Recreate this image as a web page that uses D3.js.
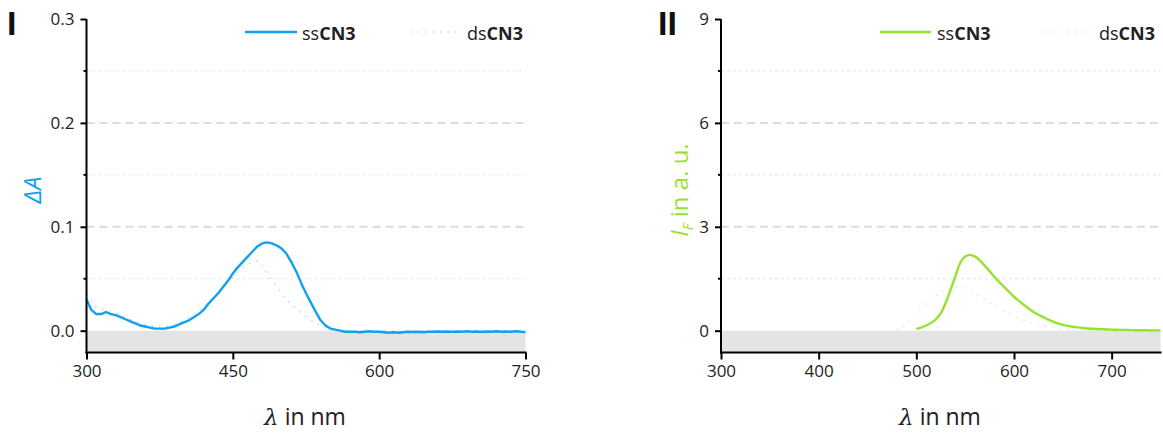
<!DOCTYPE html>
<html>
<head>
<meta charset="utf-8">
<script src="https://cdn.jsdelivr.net/npm/d3@7"></script>
<style>
  html, body { margin: 0; padding: 0; background: #fff; }
  svg { display: block; font-family: "Open Sans", "Noto Sans", sans-serif; }
</style>
</head>
<body>
<svg id="chart" width="1163" height="434"></svg>
<script>
// Panel I: differential absorption (ΔA) vs wavelength
const absWl = [300,305,310,315,320,325,330,335,340,345,350,355,360,365,370,375,380,385,390,395,
  400,405,410,415,420,425,430,435,440,445,450,455,460,465,470,475,480,485,490,495,
  500,505,510,515,520,525,530,535,540,545,550,555,560,565,570,575,580,585,590,595,
  600,605,610,615,620,625,630,635,640,645,650,655,660,665,670,675,680,685,690,695,
  700,705,710,715,720,725,730,735,740,745,750];
const absSs = [0.030,0.020,0.016,0.016,0.018,0.016,0.015,0.013,0.011,0.009,0.007,0.005,0.004,0.003,0.002,0.002,0.002,0.003,0.004,0.006,
  0.008,0.010,0.013,0.016,0.020,0.026,0.031,0.036,0.042,0.048,0.055,0.061,0.066,0.071,0.076,0.081,0.084,0.085,0.084,0.082,
  0.079,0.074,0.066,0.057,0.046,0.036,0.027,0.018,0.010,0.005,0.002,0.001,0.000,-0.001,-0.001,-0.001,-0.0015,-0.001,-0.0005,-0.001,
  -0.001,-0.0015,-0.002,-0.0015,-0.002,-0.0015,-0.001,-0.0012,-0.001,-0.0015,-0.001,-0.001,-0.0008,-0.001,-0.0008,-0.0012,-0.0008,-0.001,-0.0006,-0.001,
  -0.0008,-0.0012,-0.0008,-0.001,-0.0006,-0.001,-0.0008,-0.001,-0.0006,-0.001,-0.0012];
const absDsWl = [300,310,320,330,340,350,360,370,380,390,400,410,420,430,440,450,460,470,475,480,490,500,510,520,530,540,550,560,600,650,700,750];
const absDs = [0.035,0.022,0.020,0.017,0.013,0.009,0.006,0.004,0.004,0.006,0.010,0.016,0.023,0.032,0.042,0.052,0.061,0.066,0.067,0.063,0.049,0.035,0.025,0.017,0.010,0.005,0.0015,0.000,0.000,0.000,0.000,0.000];

// Panel II: fluorescence intensity vs wavelength
const emSsWl = [500,505,510,515,520,525,530,535,540,545,550,555,560,565,570,575,580,585,590,595,
  600,605,610,615,620,625,630,635,640,645,650,655,660,665,670,675,680,685,690,700,710,720,730,740,750];
const emSs = [0.05,0.09,0.15,0.22,0.33,0.5,0.8,1.18,1.58,1.96,2.14,2.19,2.14,2.03,1.88,1.72,1.55,1.4,1.26,1.12,
  0.98,0.86,0.75,0.64,0.54,0.46,0.39,0.32,0.26,0.21,0.17,0.14,0.115,0.095,0.078,0.065,0.055,0.047,0.04,0.03,0.022,0.017,0.013,0.01,0.008];
const emDsWl = [480,485,490,495,500,505,510,515,520,525,530,535,540,545,550,555,560,565,570,575,580,590,600,610,620,630,640,650,660,670,680,700,750];
const emDs = [0.02,0.1,0.22,0.37,0.52,0.67,0.8,0.92,1.01,1.1,1.17,1.22,1.25,1.26,1.24,1.17,1.08,0.98,0.89,0.8,0.72,0.55,0.42,0.3,0.2,0.14,0.1,0.06,0.04,0.02,0.015,0.01,0.005];

const absYTicks = [0.0, 0.1, 0.2, 0.3];
const absYMinor = [0.05, 0.15, 0.25];
const absXTicks = [300, 450, 600, 750];
const emYTicks = [0, 3, 6, 9];
const emYMinor = [1.5, 4.5, 7.5];
const emXTicks = [300, 400, 500, 600, 700];
const seriesNames = ["ss", "ds"];

const svg = d3.select("#chart");

function panel(cfg) {
  const x = d3.scaleLinear().domain([300, 750]).range([cfg.left, cfg.right]);
  const y = d3.scaleLinear().domain(cfg.yDomain).range([352.5, 19]);
  const g = svg.append("g");

  // shaded region below zero
  g.append("rect")
    .attr("x", x(300)).attr("y", y(0))
    .attr("width", x(750) - x(300)).attr("height", y(cfg.yDomain[0]) - y(0))
    .attr("fill", "#e4e4e4");

  // gridlines
  g.selectAll(".gmaj").data(cfg.yTicks.filter(v => v > 0 && v < cfg.yDomain[1])).enter()
    .append("line")
    .attr("x1", x(300)).attr("x2", x(750))
    .attr("y1", d => y(d)).attr("y2", d => y(d))
    .attr("stroke", "#dcdcdc").attr("stroke-width", 2).attr("stroke-dasharray", "8,5");
  g.selectAll(".gmin").data(cfg.yMinor).enter()
    .append("line")
    .attr("x1", x(300)).attr("x2", x(750))
    .attr("y1", d => y(d)).attr("y2", d => y(d))
    .attr("stroke", "#e2e2e2").attr("stroke-width", 1).attr("stroke-dasharray", "3,3");

  const line = d3.line().x(d => x(d[0])).y(d => y(d[1])).curve(cfg.curve);

  // ds series (faint dotted)
  g.append("path")
    .datum(d3.zip(cfg.dsWl, cfg.ds))
    .attr("d", line)
    .attr("fill", "none").attr("stroke", cfg.faint).attr("stroke-width", 1.6)
    .attr("stroke-dasharray", "1.5,6");
  // ss series (solid)
  g.append("path")
    .datum(d3.zip(cfg.ssWl, cfg.ss))
    .attr("d", line)
    .attr("fill", "none").attr("stroke", cfg.color).attr("stroke-width", 2.4)
    .attr("stroke-linejoin", "round");

  // y axis
  const yAxis = d3.axisLeft(y).tickValues(cfg.yTicks).tickFormat(cfg.yFmt).tickSize(6).tickPadding(6);
  const ya = g.append("g").attr("transform", `translate(${x(300)},0)`).call(yAxis);
  ya.select(".domain").remove();
  ya.selectAll("line").attr("stroke", "#000").attr("stroke-width", 2);
  ya.selectAll("text").attr("font-size", 17).attr("fill", "#222").attr("font-family", "'Open Sans', sans-serif");
  g.selectAll(".ymin").data(cfg.yMinor).enter().append("line")
    .attr("x1", x(300) - 3).attr("x2", x(300))
    .attr("y1", d => y(d)).attr("y2", d => y(d))
    .attr("stroke", "#000").attr("stroke-width", 2);
  g.append("line")
    .attr("x1", x(300)).attr("x2", x(300))
    .attr("y1", y(cfg.yDomain[1])).attr("y2", y(cfg.yDomain[0]) + 1)
    .attr("stroke", "#000").attr("stroke-width", 2);

  // x axis
  const xAxis = d3.axisBottom(x).tickValues(cfg.xTicks).tickFormat(d3.format("d")).tickSize(7).tickPadding(5);
  const xa = g.append("g").attr("transform", `translate(0,${y(cfg.yDomain[0])})`).call(xAxis);
  xa.select(".domain").remove();
  xa.selectAll("line").attr("stroke", "#000").attr("stroke-width", 2);
  xa.selectAll("text").attr("font-size", 17).attr("fill", "#222").attr("font-family", "'Open Sans', sans-serif");
  g.append("line")
    .attr("x1", x(300) - 1).attr("x2", x(750) + 1)
    .attr("y1", y(cfg.yDomain[0])).attr("y2", y(cfg.yDomain[0]))
    .attr("stroke", "#000").attr("stroke-width", 2);

  // x axis title
  const xt = g.append("text")
    .attr("x", cfg.xTitleX).attr("y", 425)
    .attr("text-anchor", "middle").attr("font-size", 23).attr("fill", "#222");
  xt.append("tspan").attr("font-style", "italic").attr("font-family", "'DejaVu Serif', serif").text("λ");
  xt.append("tspan").text(" in nm");

  // panel label
  g.append("text")
    .attr("x", cfg.labelX).attr("y", 35)
    .attr("font-size", 34).attr("font-weight", "bold").attr("fill", "#111")
    .attr("font-family", "'Liberation Sans', Arial, sans-serif")
    .text(cfg.label);

  // legend
  const lg = g.append("g");
  seriesNames.forEach((name, i) => {
    const lx = cfg.legendX[i];
    lg.append("line")
      .attr("x1", lx[0]).attr("x2", lx[1]).attr("y1", 32).attr("y2", 32)
      .attr("stroke", i === 0 ? cfg.color : cfg.faint)
      .attr("stroke-width", i === 0 ? 2.4 : 1.6)
      .attr("stroke-dasharray", i === 0 ? null : "1.5,6");
    const t = lg.append("text").attr("x", lx[2]).attr("y", 40).attr("font-size", 18).attr("fill", "#222");
    t.append("tspan").text(name);
    t.append("tspan").attr("font-weight", "bold").text("CN3");
  });
  return { x, y, g };
}

// Panel I
const p1 = panel({
  left: 86.5, right: 525.5, yDomain: [-0.021, 0.3],
  yTicks: absYTicks, yMinor: absYMinor, xTicks: absXTicks, yFmt: d3.format(".1f"),
  ssWl: absWl, ss: absSs, dsWl: absDsWl, ds: absDs, curve: d3.curveLinear,
  color: "#13a1ee", faint: "#b5ddf6",
  xTitleX: 305, label: "I", labelX: 7,
  legendX: [[245, 297, 302], [410, 460, 467]]
});
p1.g.append("text")
  .attr("transform", "translate(41,190) rotate(-90)")
  .attr("text-anchor", "middle").attr("font-size", 24).attr("fill", "#13a1ee")
  .attr("font-style", "italic")
  .text("ΔA");

// Panel II
const p2 = panel({
  left: 721, right: 1160.5, yDomain: [-0.63, 9],
  yTicks: emYTicks, yMinor: emYMinor, xTicks: emXTicks, yFmt: d3.format("d"),
  ssWl: emSsWl, ss: emSs, dsWl: emDsWl, ds: emDs, curve: d3.curveMonotoneX,
  color: "#96e22e", faint: "#dcf3bd",
  xTitleX: 940, label: "II", labelX: 658,
  legendX: [[880, 931, 937], [1045, 1090, 1099]]
});
const yl2 = p2.g.append("text")
  .attr("transform", "translate(688,190) rotate(-90)")
  .attr("text-anchor", "middle").attr("font-size", 24).attr("fill", "#96e22e");
yl2.append("tspan").attr("font-style", "italic").text("I");
yl2.append("tspan").attr("font-style", "italic").attr("font-size", 14).attr("dy", 5).text("F");
yl2.append("tspan").attr("dy", -5).text(" in a. u.");
</script>
</body>
</html>
